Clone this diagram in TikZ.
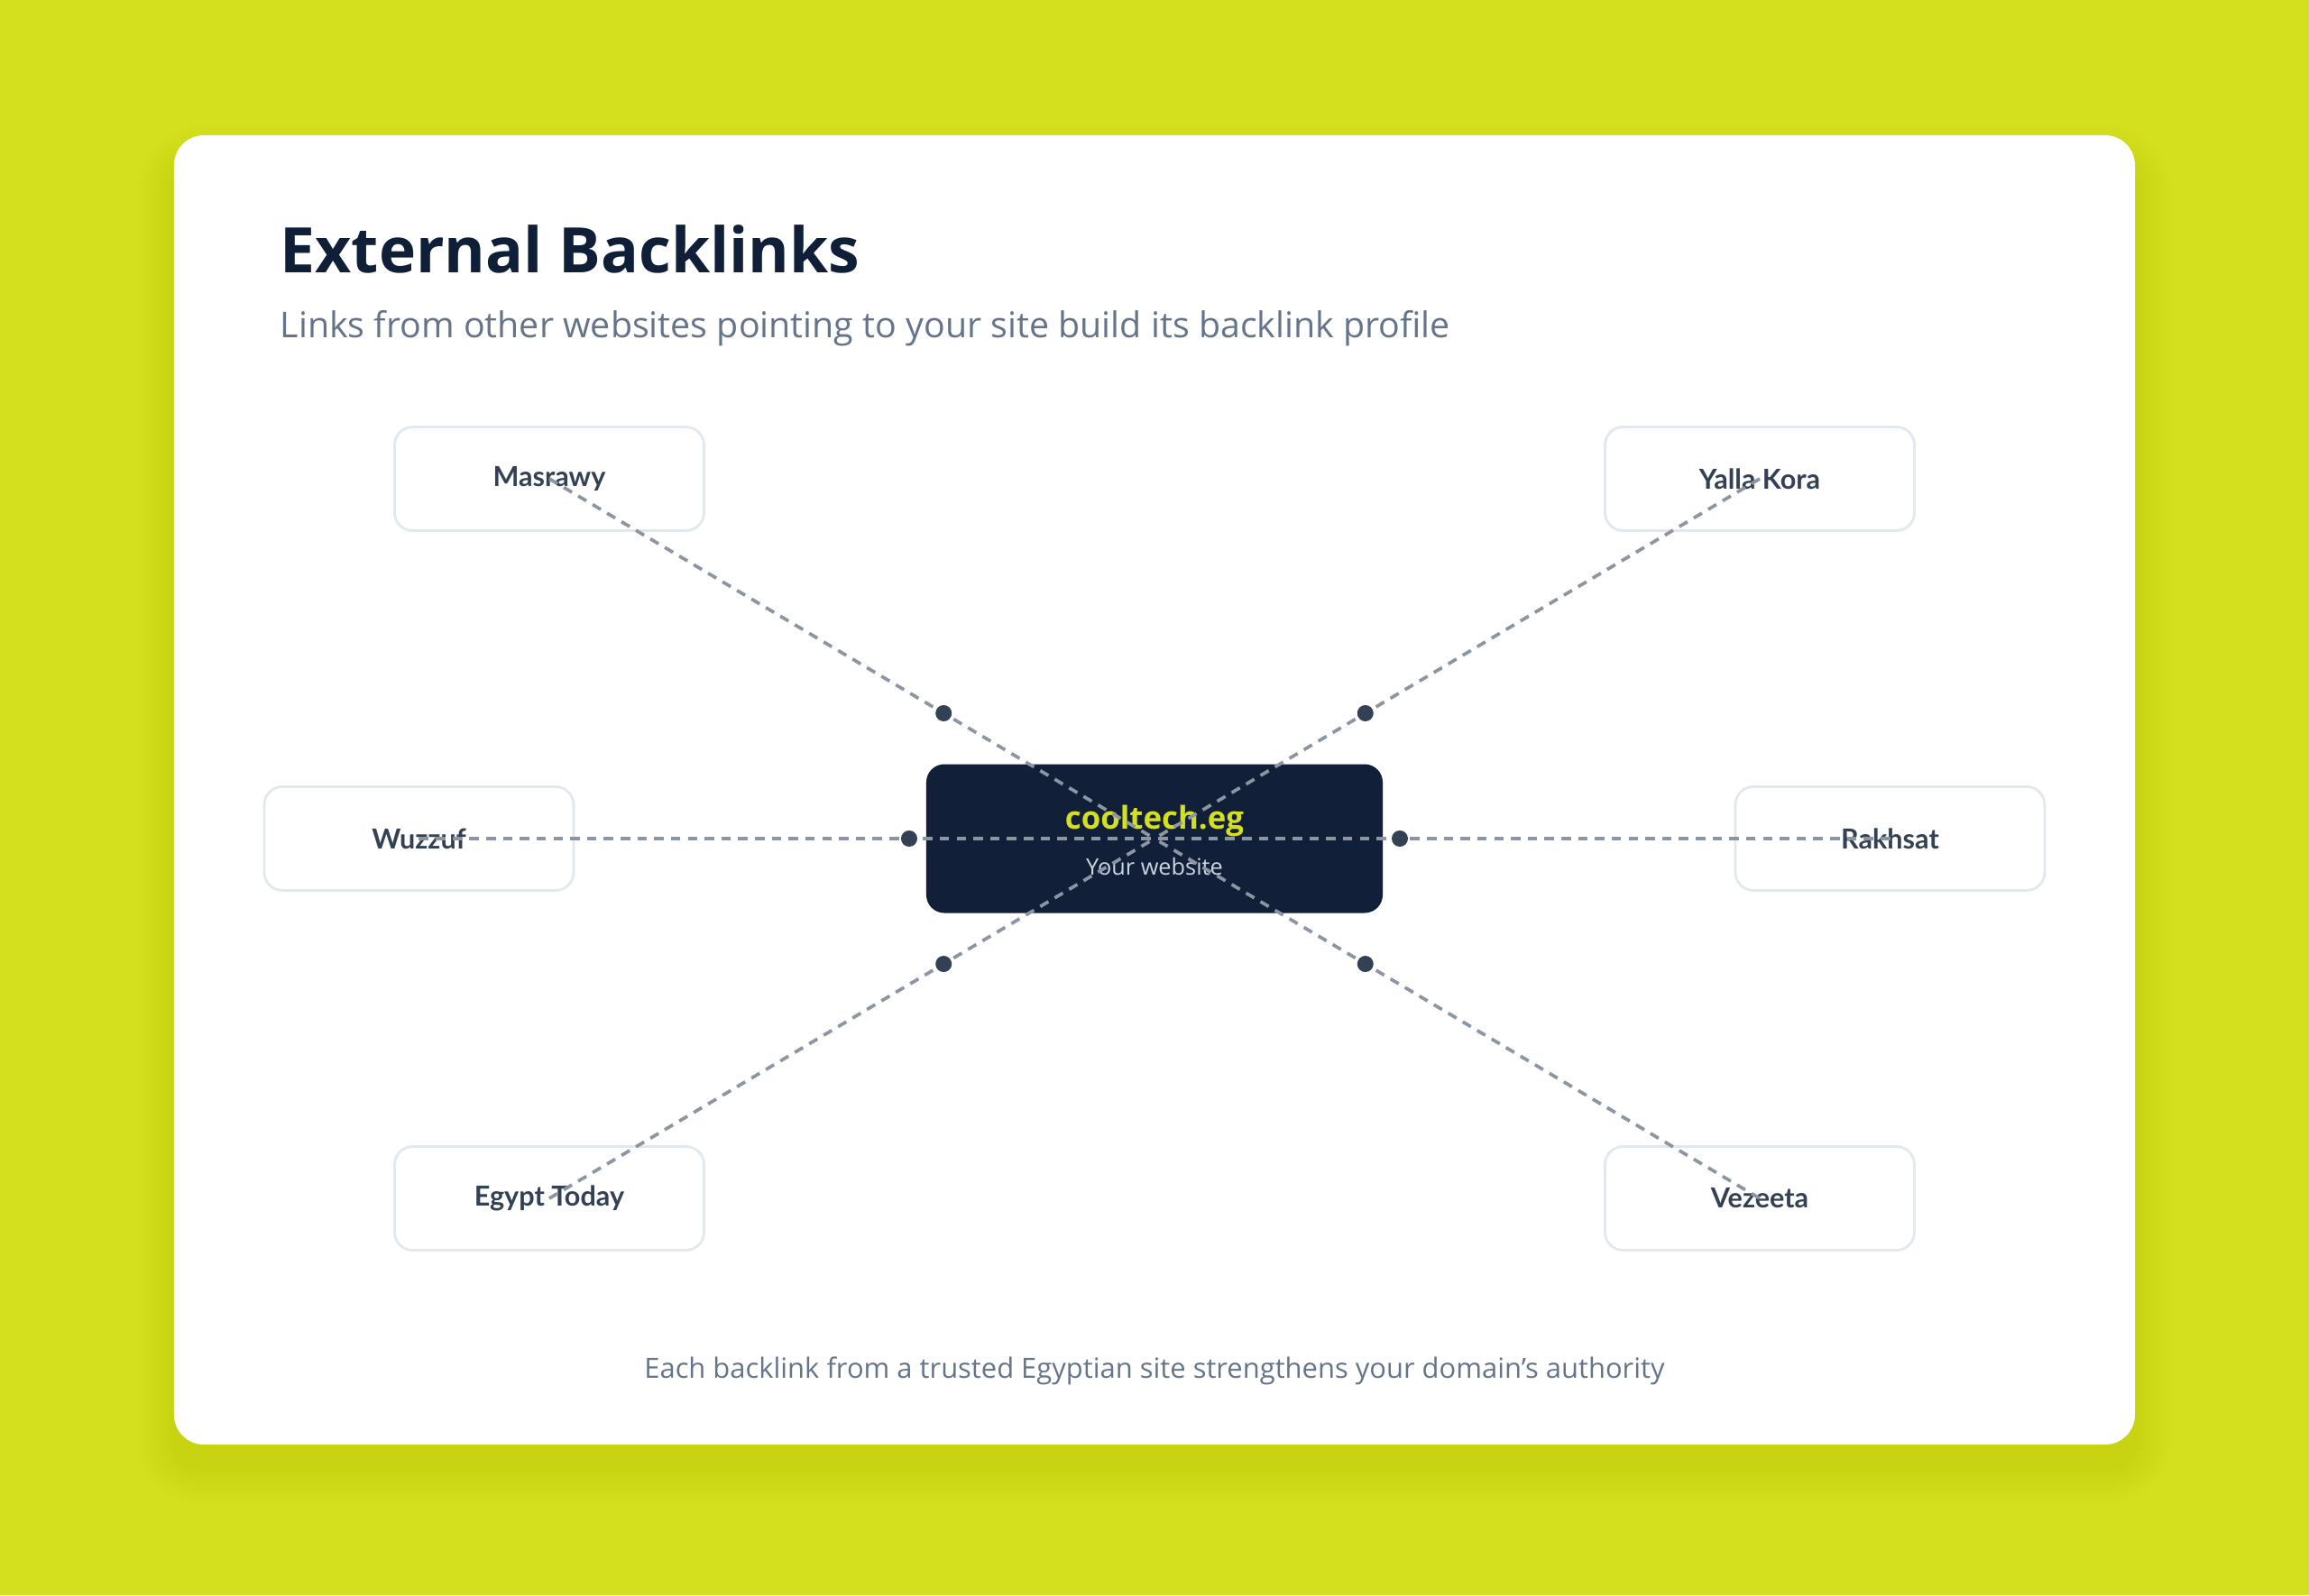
\documentclass[tikz,border=0pt]{standalone}
\usepackage{fontspec}
\setmainfont{Open Sans}
\newfontfamily\latofont{Lato}
\usetikzlibrary{calc,positioning}

\definecolor{limebg}{RGB}{212,224,30}
\definecolor{inknavy}{RGB}{16,31,56}
\definecolor{subgray}{RGB}{100,116,139}
\definecolor{sitetext}{RGB}{51,65,85}
\definecolor{siteedge}{RGB}{226,232,240}
\definecolor{linkgray}{RGB}{140,150,163}
\definecolor{dotslate}{RGB}{51,65,85}
\definecolor{hubnavy}{RGB}{17,31,56}
\definecolor{hubsub}{RGB}{203,213,225}

\begin{document}
\begin{tikzpicture}[
    site/.style={draw=siteedge, line width=0.8pt, fill=white, rounded corners=2mm, minimum width=3.43cm, minimum height=1.15cm, align=center, font=\latofont\bfseries\fontsize{8.7}{10}\selectfont, text=sitetext},
    hub/.style={fill=hubnavy, rounded corners=2mm, minimum width=5.06cm, minimum height=1.65cm},
    link/.style={draw=linkgray, line width=1.05pt, dash pattern=on 3pt off 2.3pt},
    joint/.style={circle, fill=dotslate, inner sep=0pt, minimum size=1.8mm}
]
% page and card
\fill[limebg] (-12.80,-8.39) rectangle (12.80,9.30);
\useasboundingbox (-12.80,-8.39) rectangle (12.80,9.30);
\foreach \i [evaluate=\i as \d using 0.035*\i, evaluate=\i as \r using 0.33+0.035*\i] in {1,...,12}
    \fill[black, opacity=0.005, rounded corners=\r cm] (-10.87-\d,-6.98-\d) rectangle (10.87+\d,7.50+\d);
\fill[white, rounded corners=0.33cm] (-10.87,-6.72) rectangle (10.87,7.80);

% heading
\node[anchor=base west, inner sep=0pt, text=inknavy, font=\bfseries\fontsize{19.8}{24}\selectfont] (title) at (-9.70,6.27) {External Backlinks};
\node[anchor=base west, inner sep=0pt, text=subgray, font=\fontsize{11.2}{13}\selectfont] (subtitle) at (-9.70,5.55) {Links from other websites pointing to your site build its backlink profile};

% hub and sites
\node[hub] (cen) at (0,0) {};
\node[anchor=base, text=limebg, font=\bfseries\fontsize{9.9}{12}\selectfont] (brand) at (0,0.11) {cooltech.eg};
\node[anchor=base, text=hubsub, font=\fontsize{7.2}{9}\selectfont] (brandsub) at (0,-0.40) {Your website};

\node[site] (mas) at (-6.71,3.99) {Masrawy};
\node[site] (yal) at (6.71,3.99) {Yalla Kora};
\node[site] (wuz) at (-8.155,0) {Wuzzuf};
\node[site] (rak) at (8.155,0) {Rakhsat};
\node[site] (egy) at (-6.71,-3.99) {Egypt Today};
\node[site] (vez) at (6.71,-3.99) {Vezeeta};

% links
\draw[link] (mas.center) -- (cen.center);
\draw[link] (yal.center) -- (cen.center);
\draw[link] (wuz.center) -- (cen.center);
\draw[link] (rak.center) -- (cen.center);
\draw[link] (egy.center) -- (cen.center);
\draw[link] (vez.center) -- (cen.center);

\node[joint] (jmas) at ($(cen.center)!2.72cm!(mas.center)$) {};
\node[joint] (jyal) at ($(cen.center)!2.72cm!(yal.center)$) {};
\node[joint] (jwuz) at ($(cen.center)!2.72cm!(wuz.center)$) {};
\node[joint] (jrak) at ($(cen.center)!2.72cm!(rak.center)$) {};
\node[joint] (jegy) at ($(cen.center)!2.72cm!(egy.center)$) {};
\node[joint] (jvez) at ($(cen.center)!2.72cm!(vez.center)$) {};

% footer
\node[anchor=base, inner sep=0pt, text=subgray, font=\fontsize{8.8}{11}\selectfont] (foot) at (0,-5.98) {Each backlink from a trusted Egyptian site strengthens your domain’s authority};
\end{tikzpicture}
\end{document}
